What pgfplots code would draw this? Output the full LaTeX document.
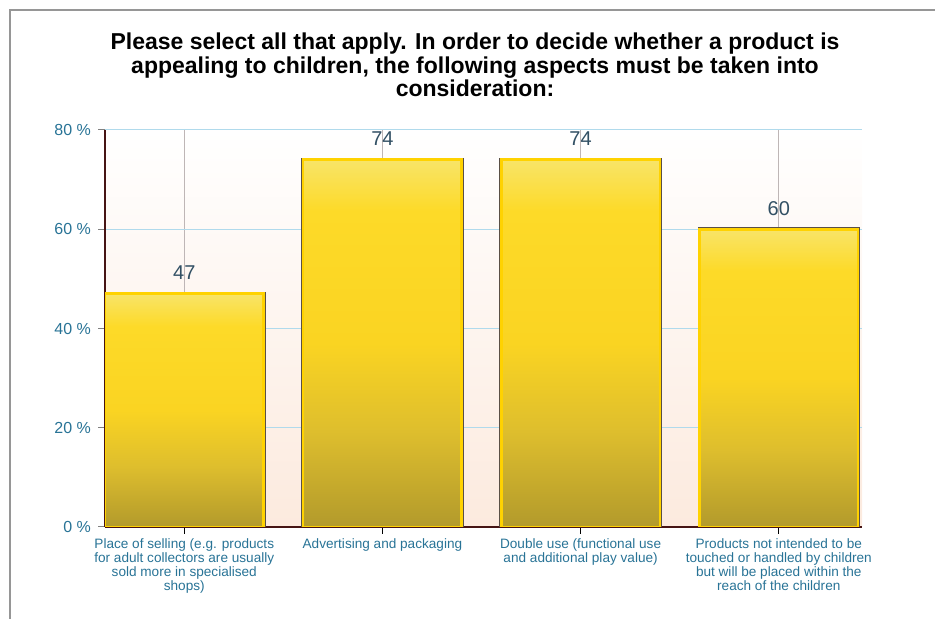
\documentclass[border=0pt]{standalone}
\usepackage{fontspec}
\setmainfont{Liberation Sans}
\usepackage{pgfplots}
\pgfplotsset{compat=1.18}
\definecolor{ticktxt}{RGB}{40,115,150}
\definecolor{valtxt}{RGB}{50,80,100}
\definecolor{hgrid}{RGB}{176,218,236}
\definecolor{vgrid}{RGB}{190,182,182}
\definecolor{axline}{RGB}{70,20,20}
\definecolor{bartop}{RGB}{248,228,104}
\definecolor{barhi}{RGB}{253,218,40}
\definecolor{barmid}{RGB}{250,212,34}
\definecolor{barlow}{RGB}{222,190,45}
\definecolor{barbot}{RGB}{178,154,44}
\definecolor{baredge}{RGB}{255,210,0}
\definecolor{baroutl}{RGB}{90,80,70}
\definecolor{bgbot}{RGB}{252,234,222}
\definecolor{framec}{RGB}{150,150,150}
\pgfdeclareverticalshading{barshade}{100bp}{color(0bp)=(barbot); color(25bp)=(barbot); color(38bp)=(barlow); color(50bp)=(barmid); color(68bp)=(barhi); color(75bp)=(bartop); color(100bp)=(bartop)}
\pgfplotsset{mybar/.style={ybar, bar width=0.8, bar shift=0pt,
     draw=baredge, line width=1.3pt, shading=barshade,
     preaction={draw=baroutl, line width=2pt}}}
\begin{document}
\begin{tikzpicture}
\path[use as bounding box] (0,0) rectangle (467.5pt,309.5pt);
\draw[framec, line width=0.6pt] (5pt,0) -- (5pt,304.5pt) -- (467.5pt,304.5pt);
\node[align=center, font=\bfseries\fontsize{11.5}{11.8}\selectfont] at (237.5pt,277pt)
 {Please select all that apply. In order to decide whether a product is\\
  appealing to children, the following aspects must be taken into\\
  consideration:};
\begin{axis}[
  at={(52.5pt,46pt)}, anchor=south west,
  scale only axis, width=378.5pt, height=198.5pt,
  xmin=-0.4, xmax=3.42, ymin=0, ymax=80,
  axis x line*=bottom, axis y line*=left,
  axis line style={axline, line width=0.8pt, -},
  xtick={0,1,2,3},
  xticklabels={{Place of selling (e.g. products\\for adult collectors are usually\\sold more in specialised\\shops)},
               {Advertising and packaging},
               {Double use (functional use\\and additional play value)},
               {Products not intended to be\\touched or handled by children\\but will be placed within the\\reach of the children}},
  xticklabel style={align=center, font=\fontsize{6.8}{6.9}\selectfont, text=ticktxt, yshift=1pt},
  ytick={0,20,40,60,80},
  yticklabel={\pgfmathprintnumber{\tick} \%},
  yticklabel style={font=\fontsize{8}{9}\selectfont, text=ticktxt},
  /pgf/number format/assume math mode=true,
  tick align=outside,
  major tick length=3.5pt,
  x tick style={black, line width=0.6pt},
  y tick style={gray, line width=0.5pt},
  xmajorgrids, ymajorgrids,
  x grid style={vgrid, line width=0.5pt},
  y grid style={hgrid, line width=0.5pt},
  axis background/.style={shade, top color=white, bottom color=bgbot},
  nodes near coords,
  nodes near coords style={font=\fontsize{10}{12}\selectfont, text=valtxt, anchor=south, yshift=3pt},
]
\addplot[mybar] coordinates {(0,47)};
\addplot[mybar] coordinates {(1,74)};
\addplot[mybar] coordinates {(2,74)};
\addplot[mybar] coordinates {(3,60)};
\end{axis}
\end{tikzpicture}
\end{document}
